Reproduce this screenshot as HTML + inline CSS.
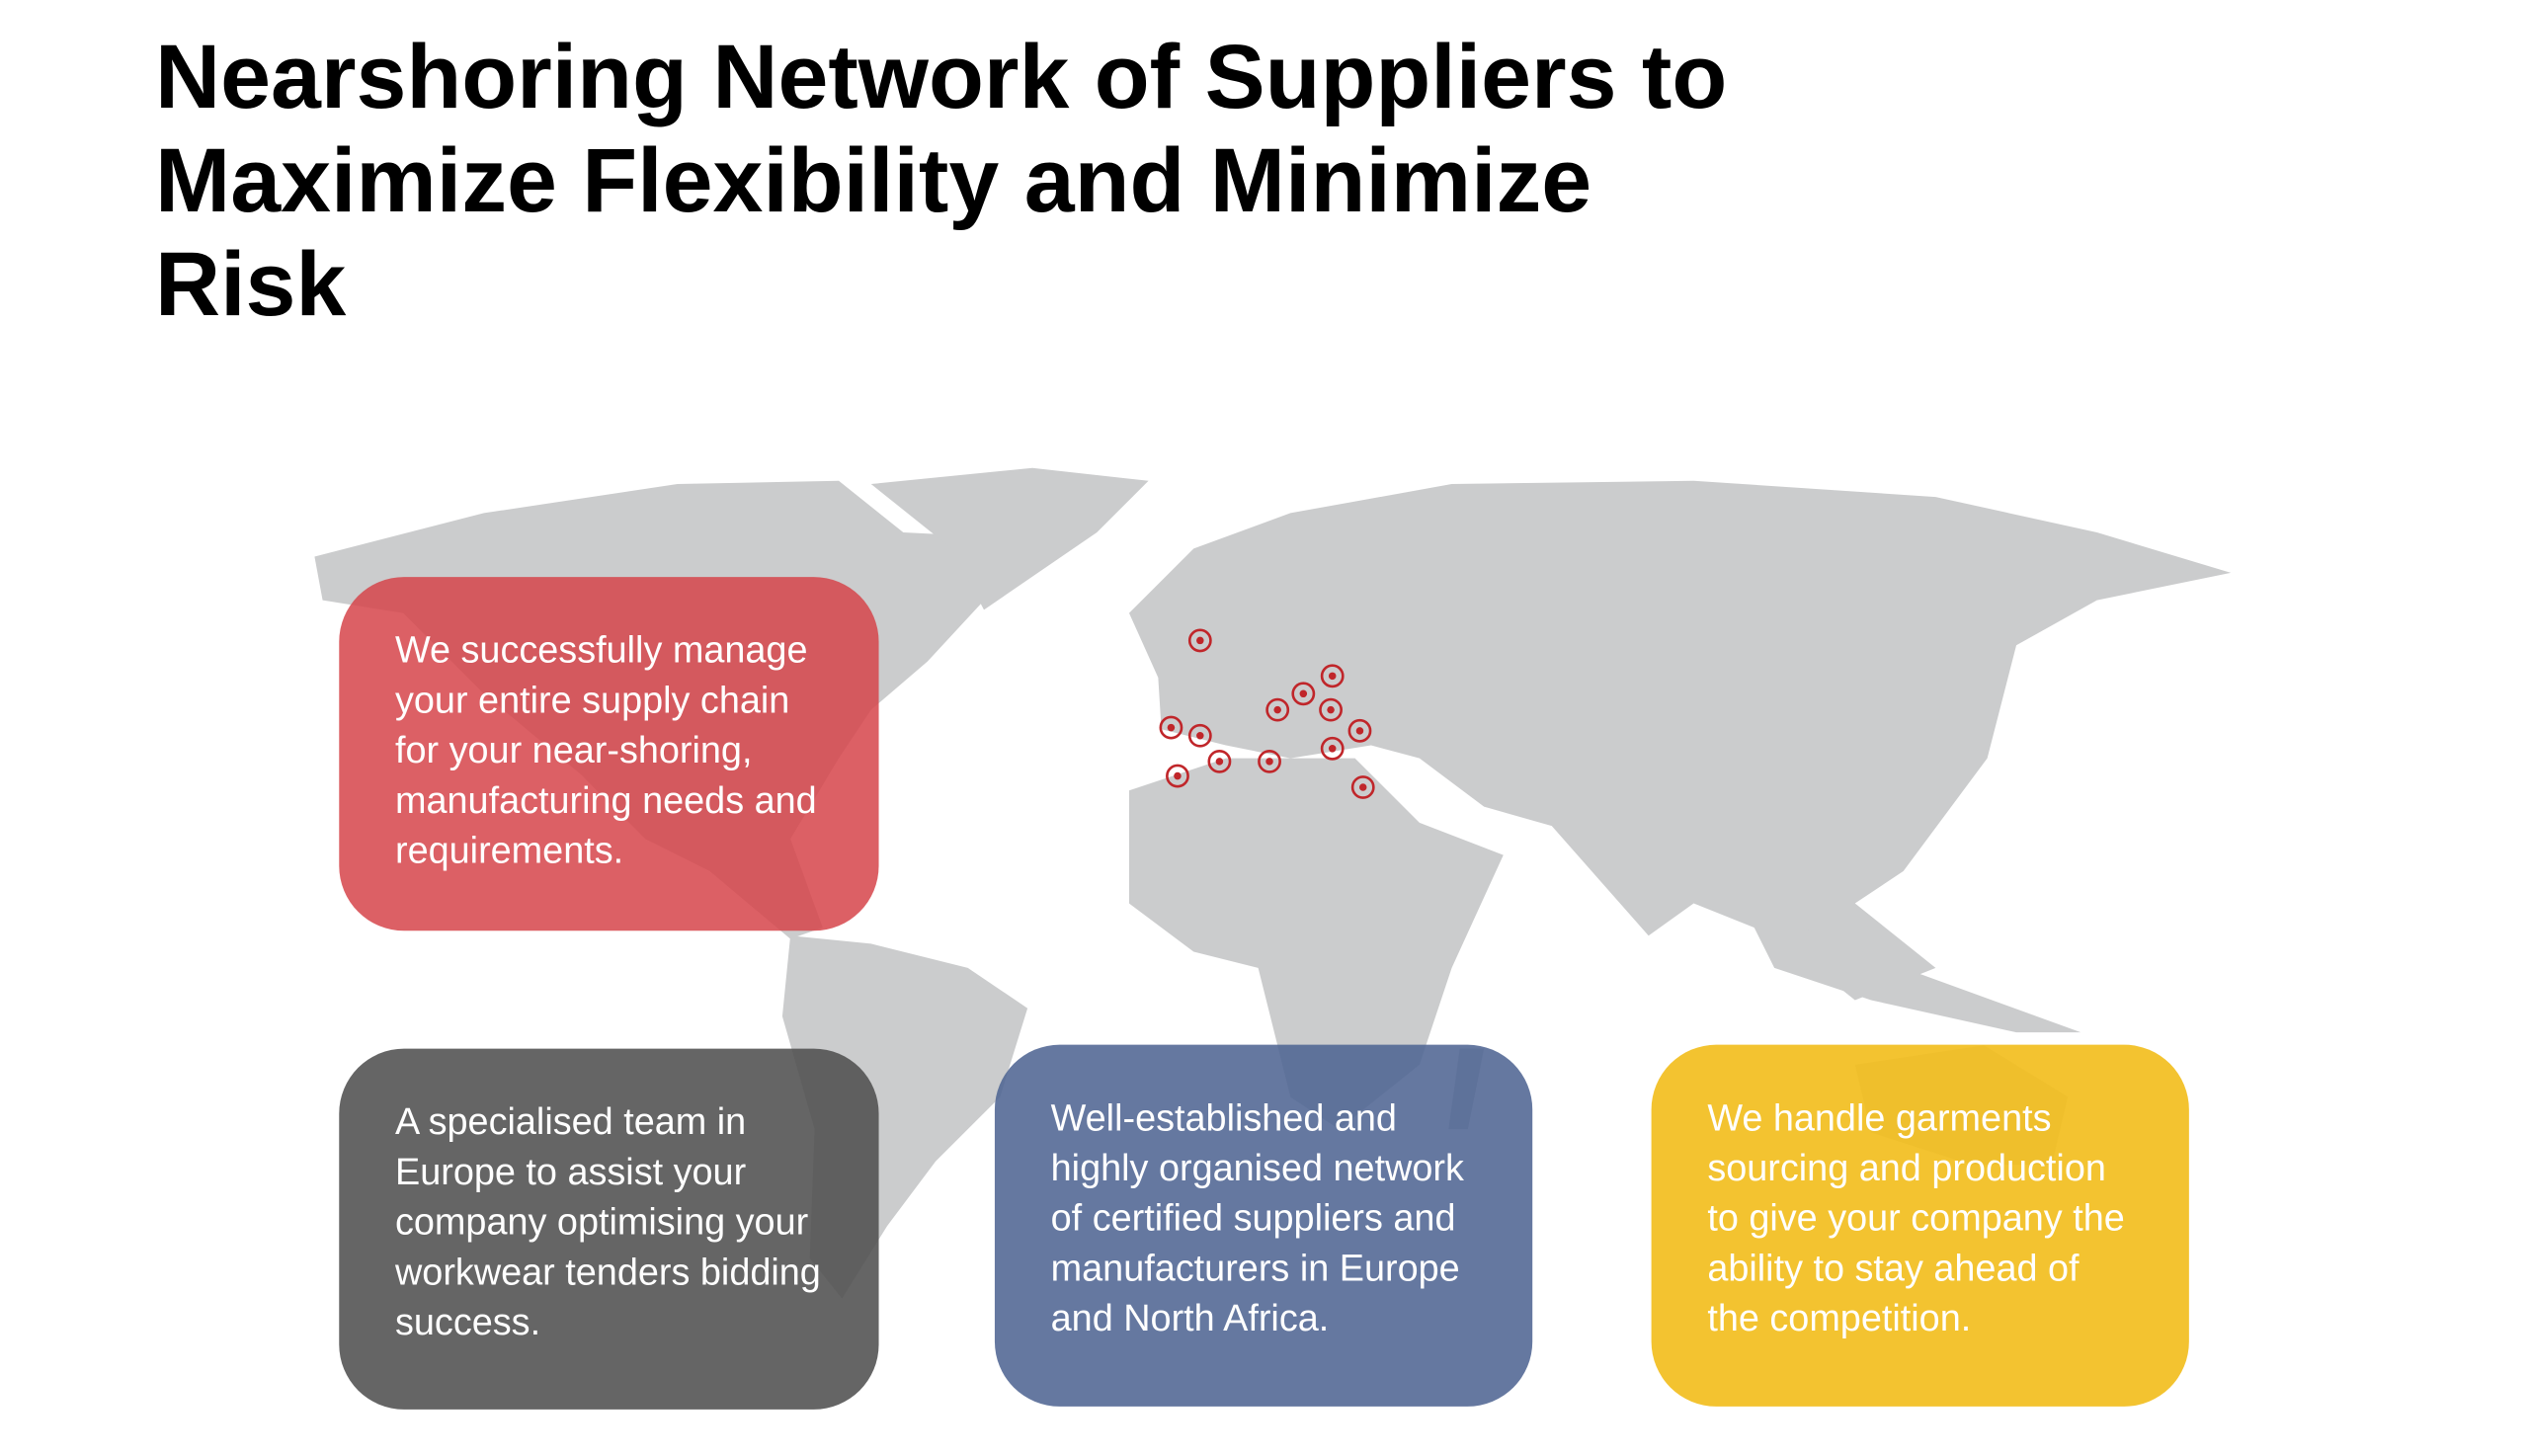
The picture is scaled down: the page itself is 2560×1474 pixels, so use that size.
<!DOCTYPE html>
<html><head><meta charset="utf-8"><style>
html,body{margin:0;padding:0;background:#fff;}
body{width:2560px;height:1474px;position:relative;overflow:hidden;font-family:"Liberation Sans",Arial,sans-serif;}
#wrap{position:absolute;left:0;top:0;width:2560px;height:1474px;transform:scale(0.995);transform-origin:0 0;}
h1{position:absolute;left:157px;top:26px;margin:0;font-size:91.5px;line-height:105px;font-weight:bold;color:#000;width:1900px;}
svg{position:absolute;left:0;top:0;}
.box{position:absolute;border-radius:66px;color:#fff;font-size:38px;line-height:51px;box-sizing:border-box;padding:50px 50px 0 57px;}
</style></head><body>
<h1>Nearshoring Network of Suppliers to<br>Maximize Flexibility and Minimize<br>Risk</h1>
<div id="wrap">
<svg width="2560" height="1474" viewBox="0 0 1560 898">
<g fill="#cbcccd">
<polygon points="195,345 300,318 420,300 520,298 560,330 600,332 612,370 575,410 540,440 520,470 490,520 510,575 490,582 440,540 400,520 360,480 300,430 250,380 200,372"/>
<polygon points="540,300 640,290 712,298 680,330 610,378 590,340"/>
<polygon points="490,580 540,585 600,600 637,625 620,680 580,720 550,760 522,805 502,780 505,700 485,630"/>
<polygon points="700,380 740,340 800,318 900,300 1050,298 1200,308 1300,330 1383,355 1300,372 1250,400 1232,470 1180,540 1150,560 1200,600 1150,620 1100,580 1050,560 1022,580 962,512 920,500 880,470 850,462 800,470 760,462 720,452 718,420"/>
<polygon points="700,490 760,470 840,470 880,510 932,530 900,600 880,660 830,700 800,680 780,600 740,590 700,560"/>
<polygon points="1150,660 1230,648 1282,680 1272,722 1222,722 1160,702"/>
<polygon points="1080,560 1130,580 1180,600 1290,640 1250,640 1160,620 1100,600"/>
<polygon points="905,650 920,650 910,700 898,700"/>
</g>
<g fill="none" stroke="#c0262a" stroke-width="1.6">
<circle cx="744" cy="397" r="6.5"/><circle cx="826" cy="419" r="6.5"/><circle cx="808" cy="430" r="6.5"/><circle cx="792" cy="440" r="6.5"/><circle cx="825" cy="440" r="6.5"/><circle cx="726" cy="451" r="6.5"/><circle cx="744" cy="456" r="6.5"/><circle cx="843" cy="453" r="6.5"/><circle cx="826" cy="464" r="6.5"/><circle cx="756" cy="472" r="6.5"/><circle cx="787" cy="472" r="6.5"/><circle cx="730" cy="481" r="6.5"/><circle cx="845" cy="488" r="6.5"/>
</g>
<g fill="#c0262a">
<circle cx="744" cy="397" r="2.3"/><circle cx="826" cy="419" r="2.3"/><circle cx="808" cy="430" r="2.3"/><circle cx="792" cy="440" r="2.3"/><circle cx="825" cy="440" r="2.3"/><circle cx="726" cy="451" r="2.3"/><circle cx="744" cy="456" r="2.3"/><circle cx="843" cy="453" r="2.3"/><circle cx="826" cy="464" r="2.3"/><circle cx="756" cy="472" r="2.3"/><circle cx="787" cy="472" r="2.3"/><circle cx="730" cy="481" r="2.3"/><circle cx="845" cy="488" r="2.3"/>
</g>
</svg>
<div class="box" style="left:345px;top:587px;width:549px;height:360px;background:rgba(214,68,74,0.85);">We successfully manage your entire supply chain for your near-shoring, manufacturing needs and requirements.</div>
<div class="box" style="left:345px;top:1067px;width:549px;height:367px;background:rgba(80,80,80,0.88);padding-right:40px;">A specialised team in Europe to assist your company optimising your workwear tenders bidding success.</div>
<div class="box" style="left:1012px;top:1063px;width:547px;height:368px;background:rgba(78,100,146,0.87);">Well-established and highly organised network of certified suppliers and manufacturers in Europe and North Africa.</div>
<div class="box" style="left:1680px;top:1063px;width:547px;height:368px;background:rgba(242,190,30,0.92);">We handle garments sourcing and production to give your company the ability to stay ahead of the competition.</div>
</div>
</body></html>
